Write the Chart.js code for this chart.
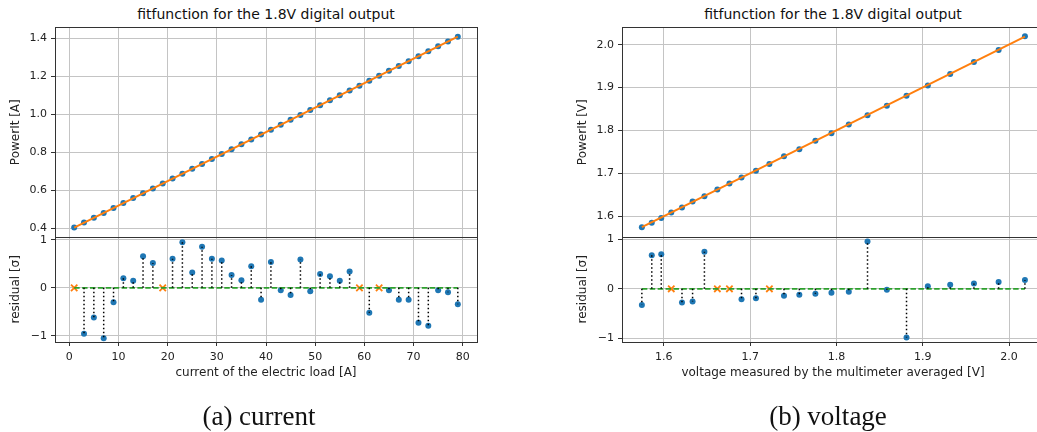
<!DOCTYPE html>
<html>
<head>
<meta charset="utf-8">
<script src="https://cdn.jsdelivr.net/npm/chart.js@4.4.0/dist/chart.umd.min.js"></script>
<style>
html, body { margin: 0; padding: 0; width: 1037px; height: 432px; overflow: hidden; background: #fff; }
canvas { position: absolute; }
#rightWrap { position: absolute; left: 567px; top: 0px; width: 470px; height: 432px; overflow: hidden; }
.title { position: absolute; width: 420px; font: 14px "DejaVu Sans"; line-height: 16px; color: #111; text-align: center; white-space: nowrap; }
.caption { position: absolute; width: 300px; font: 27px "Liberation Serif"; line-height: 30px; color: #111; text-align: center; white-space: nowrap; }
</style>
</head>
<body>
<div class="title" style="left:56px; top:6px;">fitfunction for the 1.8V digital output</div>
<div class="title" style="left:623px; top:6px;">fitfunction for the 1.8V digital output</div>
<canvas id="leftMain" width="487" height="248" style="left:0px; top:0px;"></canvas>
<canvas id="leftRes" width="487" height="174" style="left:0px; top:226px;"></canvas>
<div id="rightWrap">
<canvas id="rightMain" width="487" height="248" style="left:0px; top:0px;"></canvas>
<canvas id="rightRes" width="487" height="174" style="left:0px; top:226px;"></canvas>
</div>
<div class="caption" style="left:109px; top:401px;">(a) current</div>
<div class="caption" style="left:678px; top:401px;">(b) voltage</div>
<script>
// (a) current
let leftCurrent = [1, 3, 5, 7, 9, 11, 13, 15, 17, 19, 21, 23, 25, 27, 29, 31, 33, 35, 37, 39,
    41, 43, 45, 47, 49, 51, 53, 55, 57, 59, 61, 63, 65, 67, 69, 71, 73, 75, 77, 79];
let leftPower = [0.405, 0.431, 0.456, 0.482, 0.508, 0.534, 0.560, 0.585, 0.611, 0.637,
    0.663, 0.688, 0.714, 0.740, 0.766, 0.792, 0.817, 0.843, 0.869, 0.895,
    0.920, 0.946, 0.972, 0.998, 1.024, 1.049, 1.075, 1.101, 1.127, 1.152,
    1.178, 1.204, 1.230, 1.256, 1.281, 1.307, 1.333, 1.359, 1.384, 1.410];
// null = point left out of the fit (orange x)
let leftResidual = [null, -0.96, -0.62, -1.05, -0.30, 0.20, 0.15, 0.66, 0.52, null,
    0.61, 0.95, 0.32, 0.86, 0.61, 0.57, 0.27, 0.16, 0.45, -0.25,
    0.54, -0.05, -0.15, 0.59, -0.07, 0.29, 0.24, 0.15, 0.34, null,
    -0.52, null, -0.05, -0.25, -0.25, -0.73, -0.79, -0.05, -0.09, -0.34];
let leftFitX = [1, 79];
let leftFitY = [0.405, 1.410];

// (b) voltage
let rightVoltage = [1.5745, 1.586, 1.597, 1.6086, 1.621, 1.6333, 1.647, 1.662, 1.676, 1.690,
    1.7067, 1.7223, 1.7392, 1.757, 1.7756, 1.7942, 1.8143, 1.836, 1.8584, 1.8812,
    1.9059, 1.9318, 1.9593, 1.9879, 2.0184];
let rightPower = [1.5743, 1.5846, 1.596, 1.6086, 1.620, 1.634, 1.6467, 1.662, 1.676, 1.690,
    1.706, 1.722, 1.740, 1.7564, 1.776, 1.7937, 1.814, 1.8357, 1.8576, 1.881,
    1.905, 1.932, 1.9596, 1.988, 2.020];
let rightResidual = [-0.33, 0.68, 0.70, null, -0.28, -0.26, 0.75, null, null, -0.21,
    -0.19, null, -0.14, -0.12, -0.10, -0.08, -0.06, 0.96, -0.02, -0.99,
    0.05, 0.08, 0.11, 0.14, 0.18];
let rightFitX = [1.5745, 2.0184];
let rightFitY = [1.5745, 2.019];

let leftXTicks = [0, 10, 20, 30, 40, 50, 60, 70, 80];
let leftYTicks = [0.4, 0.6, 0.8, 1.0, 1.2, 1.4];
let rightXTicks = [1.6, 1.7, 1.8, 1.9, 2.0];
let rightYTicks = [1.6, 1.7, 1.8, 1.9, 2.0];
let residualTicks = [-1, 0, 1];

const BLUE = '#1f77b4', ORANGE = '#ff7f0e', GREEN = '#2ca02c';

Chart.defaults.font.family = 'DejaVu Sans';
Chart.defaults.color = '#222';

const framePlugin = {
    id: 'frame',
    afterDraw(chart) {
        const a = chart.chartArea;
        const ctx = chart.ctx;
        ctx.save();
        ctx.strokeStyle = '#333';
        ctx.lineWidth = 1;
        ctx.strokeRect(Math.round(a.left) + 0.5, Math.round(a.top) + 0.5,
            Math.round(a.right - a.left), Math.round(a.bottom - a.top));
        ctx.restore();
    }
};

function minusFmt(v) {
    return v < 0 ? '\u2212' + Math.abs(v) : String(v);
}

function axis(min, max, ticks, o) {
    return {
        type: 'linear',
        min: min,
        max: max,
        afterBuildTicks: s => { s.ticks = ticks.map(v => ({ value: v })); },
        afterFit: s => {
            if (o.width !== undefined) s.width = o.width;
            if (o.height !== undefined) s.height = o.height;
        },
        grid: { color: '#c4c4c4', lineWidth: 1, tickColor: '#333', tickLength: 4, drawTicks: o.drawTicks !== false },
        border: { display: false },
        ticks: {
            display: o.showTicks !== false,
            font: { size: 11 },
            color: '#222',
            padding: o.tickPad || 4,
            autoSkip: false,
            maxRotation: 0,
            callback: o.fmt
        },
        title: {
            display: !!o.title,
            text: o.title,
            font: { size: 12 },
            color: '#222',
            padding: o.titlePad || 0
        }
    };
}

function mainChart(id, xs, ys, fitX, fitY, xr, yr, xTicks, yTicks, yTitle, yFmt) {
    let fit = fitX.map((x, i) => ({ x: x, y: fitY[i] }));
    let pts = xs.map((x, i) => ({ x: x, y: ys[i] }));
    return new Chart(document.getElementById(id), {
        type: 'scatter',
        data: {
            datasets: [
                { data: fit, showLine: true, borderColor: ORANGE, borderWidth: 2, pointRadius: 0 },
                { data: pts, pointRadius: 3, pointBackgroundColor: BLUE, pointBorderWidth: 0 }
            ]
        },
        options: {
            responsive: false,
            animation: false,
            layout: { padding: { top: 27, right: 10, bottom: 10, left: 0 } },
            plugins: { legend: { display: false }, tooltip: { enabled: false } },
            scales: {
                x: axis(xr[0], xr[1], xTicks, { showTicks: false, drawTicks: false, height: 0 }),
                y: axis(yr[0], yr[1], yTicks, { width: 55, fmt: yFmt, title: yTitle, titlePad: { top: 9 } })
            }
        },
        plugins: [framePlugin]
    });
}

function residualChart(id, xs, rs, xr, yr, xTicks, xTitle, xFmt) {
    let stems = [];
    let dots = [];
    let out = [];
    xs.forEach((x, i) => {
        if (rs[i] === null) {
            out.push({ x: x, y: 0 });
        } else {
            stems.push({ x: x, y: 0 }, { x: x, y: rs[i] }, { x: x, y: null });
            dots.push({ x: x, y: rs[i] });
        }
    });
    let zero = [{ x: xs[0], y: 0 }, { x: xs[xs.length - 1], y: 0 }];
    return new Chart(document.getElementById(id), {
        type: 'scatter',
        data: {
            datasets: [
                { data: stems, showLine: true, spanGaps: false, borderColor: '#000', borderWidth: 1.5, borderDash: [1.5, 2.5], pointRadius: 0 },
                { data: zero, showLine: true, borderColor: GREEN, borderWidth: 1.8, borderDash: [5.5, 2.4], pointRadius: 0 },
                { data: dots, pointRadius: 3, pointBackgroundColor: BLUE, pointBorderWidth: 0 },
                { data: out, pointStyle: 'crossRot', pointRadius: 4.5, pointBorderColor: ORANGE, pointBorderWidth: 1.8 }
            ]
        },
        options: {
            responsive: false,
            animation: false,
            layout: { padding: { top: 10, right: 10, bottom: 0, left: 0 } },
            plugins: { legend: { display: false }, tooltip: { enabled: false } },
            scales: {
                x: axis(xr[0], xr[1], xTicks, { height: 58, fmt: xFmt, tickPad: 5, title: xTitle, titlePad: { bottom: 20 } }),
                y: axis(yr[0], yr[1], residualTicks, { width: 55, fmt: minusFmt, title: 'residual [\u03c3]', titlePad: { top: 9 } })
            }
        },
        plugins: [framePlugin]
    });
}

mainChart('leftMain', leftCurrent, leftPower, leftFitX, leftFitY, [-2.9, 82.9], [0.353, 1.461],
    leftXTicks, leftYTicks, 'PowerIt [A]', v => v.toFixed(1));
residualChart('leftRes', leftCurrent, leftResidual, [-2.9, 82.9], [-1.13, 1.07],
    leftXTicks, 'current of the electric load [A]', v => String(v));
mainChart('rightMain', rightVoltage, rightPower, rightFitX, rightFitY, [1.5515, 2.0405], [1.5505, 2.0415],
    rightXTicks, rightYTicks, 'PowerIt [V]', v => v.toFixed(1));
residualChart('rightRes', rightVoltage, rightResidual, [1.5515, 2.0405], [-1.08, 1.06],
    rightXTicks, 'voltage measured by the multimeter averaged [V]', v => v.toFixed(1));
</script>
</body>
</html>
